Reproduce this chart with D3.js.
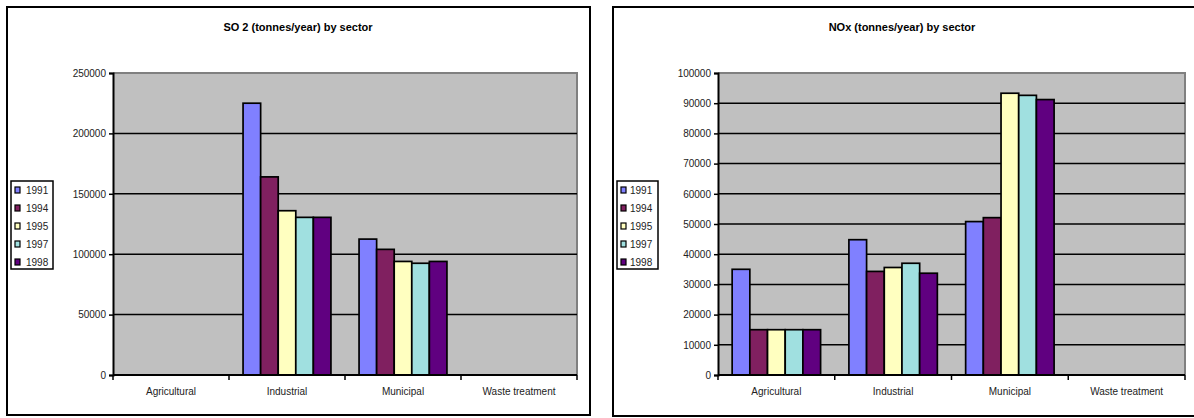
<!DOCTYPE html>
<html>
<head>
<meta charset="utf-8">
<script src="https://cdn.jsdelivr.net/npm/d3@7"></script>
<style>
body { margin: 0; background: #fff; }
svg { display: block; font-family: "Liberation Sans", Arial, sans-serif; }
</style>
</head>
<body>
<div id="chart"></div>
<script>
var sectors = ["Agricultural", "Industrial", "Municipal", "Waste treatment"];
var years = ["1991", "1994", "1995", "1997", "1998"];
var colors = ["#8080FF", "#802060", "#FFFFC0", "#A0E0E0", "#600080"];

// SO2 tonnes/year, one row per year, one value per sector
var so2Values = [
	[null, 225000, 112500, null],
	[null, 164000, 104000, null],
	[null, 136000, 94000, null],
	[null, 130500, 92500, null],
	[null, 130500, 94000, null]
];
var so2Ticks = [0, 50000, 100000, 150000, 200000, 250000];

// NOx tonnes/year
var noxValues = [
	[35000, 44800, 50800, null],
	[15000, 34300, 52100, null],
	[15000, 35600, 93300, null],
	[15000, 37000, 92600, null],
	[15000, 33700, 91200, null]
];
var noxTicks = [0, 10000, 20000, 30000, 40000, 50000, 60000, 70000, 80000, 90000, 100000];

var svg = d3.select("#chart")
	.append("svg")
	.attr("width", 1194)
	.attr("height", 418);

function drawChart(opt)
{
	var g = svg.append("g");

	// outer frame
	g.append("rect")
	.attr("x", opt.box[0])
	.attr("y", opt.box[1])
	.attr("width", opt.box[2])
	.attr("height", opt.box[3])
	.attr("fill", "#fff")
	.attr("stroke", "#000")
	.attr("stroke-width", 2);

	g.append("text")
	.attr("x", opt.titleX)
	.attr("y", 31)
	.attr("text-anchor", "middle")
	.attr("font-size", 11)
	.attr("font-weight", "bold")
	.text(opt.title);

	var x = d3.scaleBand()
	.domain(sectors)
	.range([opt.left, opt.right])
	.padding(0);

	var xi = d3.scaleBand()
	.domain(years)
	.range([0, x.bandwidth()])
	.paddingInner(0)
	.paddingOuter(0.8);

	var y = d3.scaleLinear()
	.domain([0, opt.max])
	.range([375, 73]);

	// plot area
	g.append("rect")
	.attr("x", opt.left)
	.attr("y", y(opt.max))
	.attr("width", opt.right - opt.left)
	.attr("height", y(0) - y(opt.max))
	.attr("fill", "#C0C0C0");

	g.append("path")
	.attr("d", "M" + opt.left + "," + y(opt.max) + "H" + opt.right + "V" + y(0))
	.attr("fill", "none")
	.attr("stroke", "#808080")
	.attr("stroke-width", 2);

	// gridlines
	g.selectAll(".grid")
	.data(opt.ticks.filter(function(d) { return d > 0 && d < opt.max; }))
	.enter()
	.append("line")
	.attr("x1", opt.left)
	.attr("x2", opt.right)
	.attr("y1", function(d) { return y(d); })
	.attr("y2", function(d) { return y(d); })
	.attr("stroke", "#000")
	.attr("stroke-width", 1.5);

	// bars
	for(var s = 0; s < years.length; s++)
	{
		var pts = opt.values[s]
		.map(function(v, i) { return {sector: sectors[i], value: v}; })
		.filter(function(d) { return d.value != null; });

		g.append("g")
		.selectAll("rect")
		.data(pts)
		.enter()
		.append("rect")
		.attr("x", function(d) { return x(d.sector) + xi(years[s]); })
		.attr("y", function(d) { return y(d.value); })
		.attr("width", xi.bandwidth())
		.attr("height", function(d) { return y(0) - y(d.value); })
		.attr("fill", colors[s])
		.attr("stroke", "#000")
		.attr("stroke-width", 1.7);
	}

	// y axis
	var yAxis = g.append("g")
	.attr("transform", "translate(" + opt.left + ",0)")
	.call(d3.axisLeft(y).tickValues(opt.ticks).tickSize(4).tickPadding(3).tickFormat(d3.format("d")));
	yAxis.select(".domain").attr("stroke-width", 2);
	yAxis.selectAll("line").attr("stroke-width", 1.5);
	yAxis.selectAll("text").attr("font-size", 10).attr("fill", "#222").attr("font-family", "Liberation Sans, Arial, sans-serif");

	// x axis
	var xAxis = g.append("g")
	.attr("transform", "translate(0," + y(0) + ")");
	xAxis.append("line")
	.attr("x1", opt.left)
	.attr("x2", opt.right)
	.attr("stroke", "#000")
	.attr("stroke-width", 2);
	xAxis.selectAll(".tk")
	.data(sectors.map(function(d) { return x(d); }).concat([opt.right]))
	.enter()
	.append("line")
	.attr("x1", function(d) { return d; })
	.attr("x2", function(d) { return d; })
	.attr("y1", 0)
	.attr("y2", 5)
	.attr("stroke", "#000")
	.attr("stroke-width", 1.5);
	xAxis.selectAll("text")
	.data(sectors)
	.enter()
	.append("text")
	.attr("x", function(d) { return x(d) + x.bandwidth() / 2; })
	.attr("y", 20)
	.attr("text-anchor", "middle")
	.attr("font-size", 10)
	.attr("fill", "#222")
	.text(function(d) { return d; });

	// legend
	var lg = g.append("g");
	lg.append("rect")
	.attr("x", opt.legend[0])
	.attr("y", 181)
	.attr("width", opt.legend[1])
	.attr("height", 88)
	.attr("fill", "#fff")
	.attr("stroke", "#000")
	.attr("stroke-width", 1.5);
	var item = lg.selectAll(".item")
	.data(years)
	.enter()
	.append("g")
	.attr("transform", function(d, i) { return "translate(" + (opt.legend[0] + 4) + "," + (190 + i * 18) + ")"; });
	item.append("rect")
	.attr("x", 0)
	.attr("y", -3)
	.attr("width", 5)
	.attr("height", 6)
	.attr("fill", function(d, i) { return colors[i]; })
	.attr("stroke", "#000")
	.attr("stroke-width", 1.2);
	item.append("text")
	.attr("x", opt.legend[2])
	.attr("y", 3.5)
	.attr("font-size", 10)
	.attr("fill", "#222")
	.text(function(d) { return d; });
}

drawChart({
	box: [7, 7, 583, 408],
	title: "SO 2 (tonnes/year) by sector",
	titleX: 298,
	left: 113,
	right: 577,
	max: 250000,
	ticks: so2Ticks,
	values: so2Values,
	legend: [11, 42, 11]
});

drawChart({
	box: [613, 7, 590, 409],
	title: "NOx (tonnes/year) by sector",
	titleX: 902,
	left: 718,
	right: 1185,
	max: 100000,
	ticks: noxTicks,
	values: noxValues,
	legend: [617, 41, 9]
});
</script>
</body>
</html>
